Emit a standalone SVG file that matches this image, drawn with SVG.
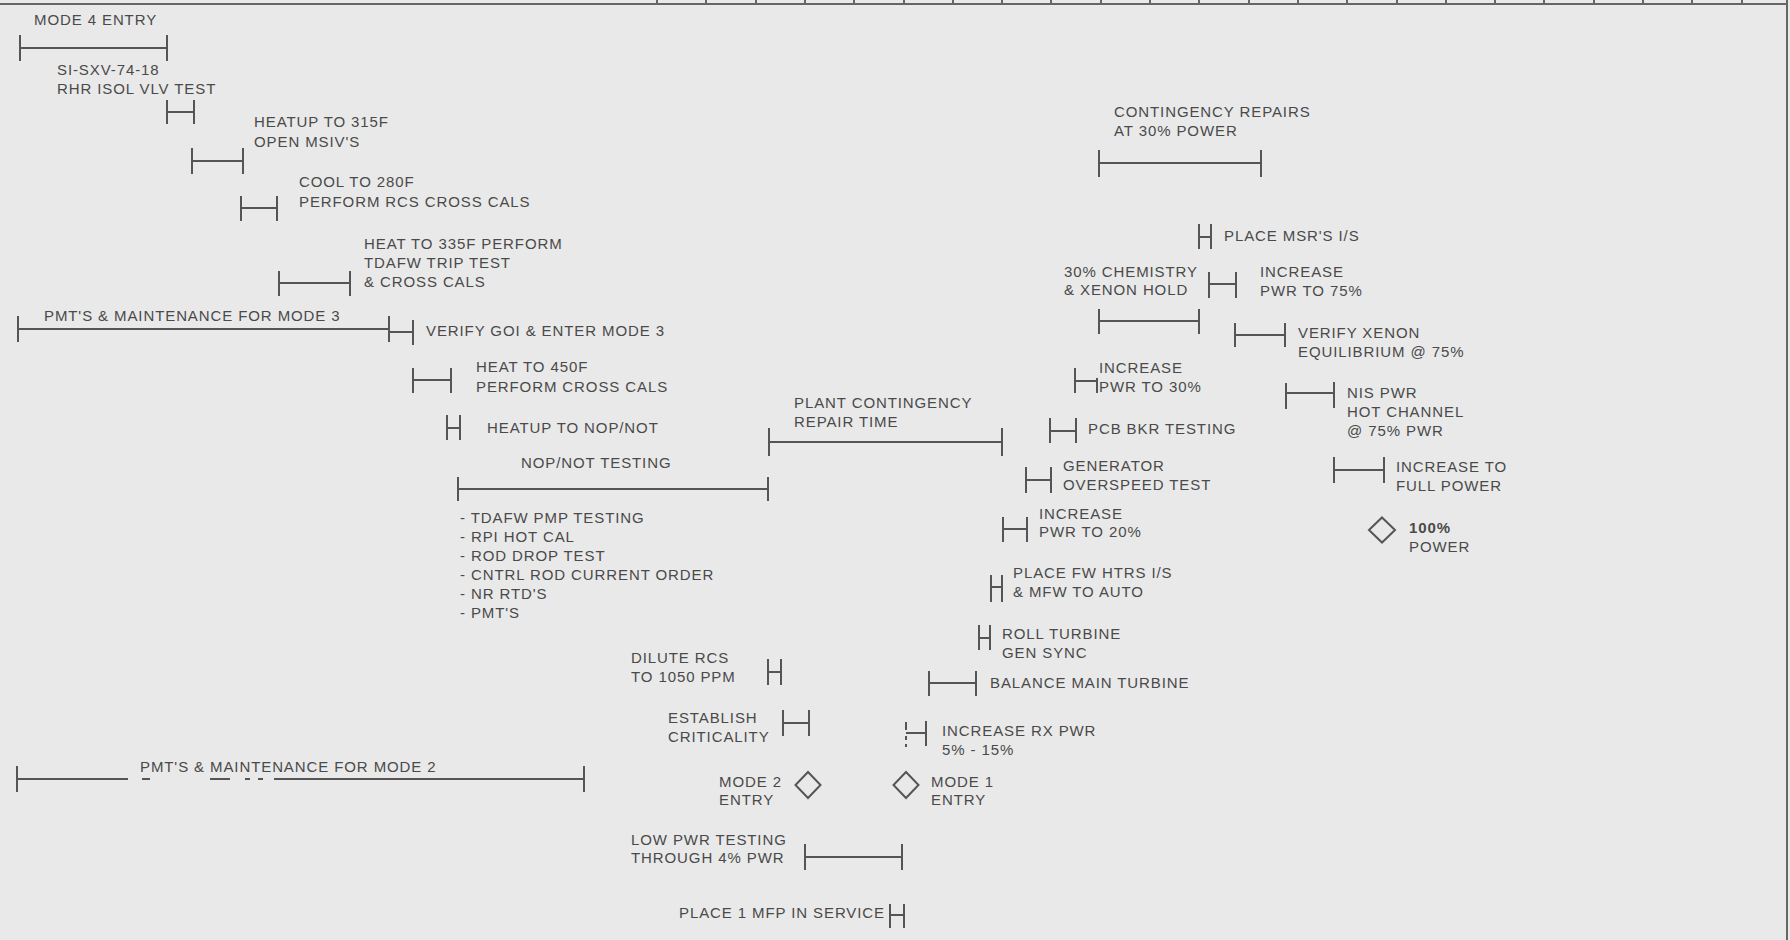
<svg xmlns="http://www.w3.org/2000/svg" width="1790" height="940" viewBox="0 0 1790 940">
<style>
.t{font-family:"Liberation Sans",Arial,sans-serif;font-size:15px;letter-spacing:0.9px;fill:#4a4a4a}
.b{fill:none;stroke:#555;stroke-width:2}
.d{fill:none;stroke:#555;stroke-width:2}
.r{fill:none;stroke:#666;stroke-width:2}
</style>
<rect width="1790" height="940" fill="#e9e9e9"/>
<g id="ruler">
<path class="r" d="M0 4H1787 M1787 0V940"/>
<path class="r" stroke-width="1.5" d="M657 0V4 M706 0V4 M756 0V4 M805 0V4 M854 0V4 M904 0V4 M953 0V4 M1002 0V4 M1051 0V4 M1101 0V4 M1150 0V4 M1199 0V4 M1249 0V4 M1298 0V4 M1347 0V4 M1397 0V4 M1446 0V4 M1495 0V4 M1544 0V4 M1594 0V4 M1643 0V4 M1692 0V4 M1742 0V4"/>
</g>
<g id="connectors"></g>
<g id="mode4-entry"><path class="b" d="M20 35V61M20 48H167M167 35V61"/><text class="t" x="34" y="25">MODE 4 ENTRY</text></g>
<g id="rhr-isol"><path class="b" d="M167 100V124M167 112H194M194 100V124"/><text class="t" x="57" y="75">SI-SXV-74-18</text><text class="t" x="57" y="94">RHR ISOL VLV TEST</text></g>
<g id="heatup-315"><path class="b" d="M192 148V174M192 161H243M243 148V174"/><text class="t" x="254" y="127">HEATUP TO 315F</text><text class="t" x="254" y="147">OPEN MSIV'S</text></g>
<g id="cool-280"><path class="b" d="M241 196V221M241 208H277M277 196V221"/><text class="t" x="299" y="187">COOL TO 280F</text><text class="t" x="299" y="207">PERFORM RCS CROSS CALS</text></g>
<g id="heat-335"><path class="b" d="M279 271V296M279 283H350M350 271V296"/><text class="t" x="364" y="249">HEAT TO 335F PERFORM</text><text class="t" x="364" y="268">TDAFW TRIP TEST</text><text class="t" x="364" y="287">&amp; CROSS CALS</text></g>
<g id="pmts-mode3"><path class="b" d="M18 316V342M18 329H389M389 316V342"/><text class="t" x="44" y="321">PMT'S &amp; MAINTENANCE FOR MODE 3</text></g>
<g id="verify-goi"><path class="b" d="M389 332H413M413 320V345"/><text class="t" x="426" y="336">VERIFY GOI &amp; ENTER MODE 3</text></g>
<g id="heat-450"><path class="b" d="M413 368V393M413 380H451M451 368V393"/><text class="t" x="476" y="372">HEAT TO 450F</text><text class="t" x="476" y="392">PERFORM CROSS CALS</text></g>
<g id="heatup-nop"><path class="b" d="M447 415V440M447 428H460M460 415V440"/><text class="t" x="487" y="433">HEATUP TO NOP/NOT</text></g>
<g id="nop-testing"><path class="b" d="M458 477V501M458 489H768M768 477V501"/><text class="t" x="521" y="468">NOP/NOT TESTING</text>
<text class="t" x="460" y="523">- TDAFW PMP TESTING</text><text class="t" x="460" y="542">- RPI HOT CAL</text><text class="t" x="460" y="561">- ROD DROP TEST</text><text class="t" x="460" y="580">- CNTRL ROD CURRENT ORDER</text><text class="t" x="460" y="599">- NR RTD'S</text><text class="t" x="460" y="618">- PMT'S</text></g>
<g id="plant-contingency"><path class="b" d="M769 428V456M769 442H1002M1002 428V456"/><text class="t" x="794" y="408">PLANT CONTINGENCY</text><text class="t" x="794" y="427">REPAIR TIME</text></g>
<g id="dilute-rcs"><path class="b" d="M768 659V685M768 672H781M781 659V685"/><text class="t" x="631" y="663">DILUTE RCS</text><text class="t" x="631" y="682">TO 1050 PPM</text></g>
<g id="criticality"><path class="b" d="M783 710V736M783 723H809M809 710V736"/><text class="t" x="668" y="723">ESTABLISH</text><text class="t" x="668" y="742">CRITICALITY</text></g>
<g id="pmts-mode2"><path class="b" d="M17 766V792M17 779H128M142 779H150M210 779H230M245 779H250M258 779H263M274 779H584M584 766V792"/><text class="t" x="140" y="772">PMT'S &amp; MAINTENANCE FOR MODE 2</text></g>
<g id="mode2-entry"><polygon class="d" points="808,772 820.5,785 808,798 795.5,785"/><text class="t" x="719" y="787">MODE 2</text><text class="t" x="719" y="805">ENTRY</text></g>
<g id="mode1-entry"><polygon class="d" points="906,772 918.5,785 906,798 893.5,785"/><text class="t" x="931" y="787">MODE 1</text><text class="t" x="931" y="805">ENTRY</text></g>
<g id="low-pwr"><path class="b" d="M805 844V870M805 857H902M902 844V870"/><text class="t" x="631" y="845">LOW PWR TESTING</text><text class="t" x="631" y="863">THROUGH 4% PWR</text></g>
<g id="place-mfp"><path class="b" d="M890 904V928M890 915H904M904 904V928"/><text class="t" x="679" y="918">PLACE 1 MFP IN SERVICE</text></g>
<g id="increase-rx"><path class="b" d="M906 722V730M906 736V740M906 744V747M906 733H926M926 721V746"/><text class="t" x="942" y="736">INCREASE RX PWR</text><text class="t" x="942" y="755">5% - 15%</text></g>
<g id="balance-turbine"><path class="b" d="M929 671V696M929 683H976M976 671V696"/><text class="t" x="990" y="688">BALANCE MAIN TURBINE</text></g>
<g id="roll-turbine"><path class="b" d="M979 625V650M979 638H990M990 625V650"/><text class="t" x="1002" y="639">ROLL TURBINE</text><text class="t" x="1002" y="658">GEN SYNC</text></g>
<g id="place-fw"><path class="b" d="M991 575V602M991 587H1002M1002 575V602"/><text class="t" x="1013" y="578">PLACE FW HTRS I/S</text><text class="t" x="1013" y="597">&amp; MFW TO AUTO</text></g>
<g id="increase-20"><path class="b" d="M1003 517V542M1003 529H1027M1027 517V542"/><text class="t" x="1039" y="519">INCREASE</text><text class="t" x="1039" y="537">PWR TO 20%</text></g>
<g id="generator"><path class="b" d="M1026 467V493M1026 480H1051M1051 467V493"/><text class="t" x="1063" y="471">GENERATOR</text><text class="t" x="1063" y="490">OVERSPEED TEST</text></g>
<g id="pcb-bkr"><path class="b" d="M1050 418V443M1050 431H1076M1076 418V443"/><text class="t" x="1088" y="434">PCB BKR TESTING</text></g>
<g id="increase-30"><path class="b" d="M1075 368V393M1075 381H1097M1097 378V393"/><text class="t" x="1099" y="373">INCREASE</text><text class="t" x="1099" y="392">PWR TO 30%</text></g>
<g id="xenon-hold"><path class="b" d="M1099 309V334M1099 321H1199M1199 309V334"/><text class="t" x="1064" y="277">30% CHEMISTRY</text><text class="t" x="1064" y="295">&amp; XENON HOLD</text></g>
<g id="contingency-30"><path class="b" d="M1099 150V177M1099 163H1261M1261 150V177"/><text class="t" x="1114" y="117">CONTINGENCY REPAIRS</text><text class="t" x="1114" y="136">AT 30% POWER</text></g>
<g id="place-msr"><path class="b" d="M1199 224V249M1199 237H1211M1211 224V249"/><text class="t" x="1224" y="241">PLACE MSR'S I/S</text></g>
<g id="increase-75"><path class="b" d="M1209 272V298M1209 284H1236M1236 272V298"/><text class="t" x="1260" y="277">INCREASE</text><text class="t" x="1260" y="296">PWR TO 75%</text></g>
<g id="verify-xenon"><path class="b" d="M1235 323V347M1235 335H1285M1285 323V347"/><text class="t" x="1298" y="338">VERIFY XENON</text><text class="t" x="1298" y="357">EQUILIBRIUM @ 75%</text></g>
<g id="nis-pwr"><path class="b" d="M1286 383V409M1286 393H1334M1334 382V408"/><text class="t" x="1347" y="398">NIS PWR</text><text class="t" x="1347" y="417">HOT CHANNEL</text><text class="t" x="1347" y="436">@ 75% PWR</text></g>
<g id="increase-full"><path class="b" d="M1334 457V483M1334 470H1384M1384 457V483"/><text class="t" x="1396" y="472">INCREASE TO</text><text class="t" x="1396" y="491">FULL POWER</text></g>
<g id="full-power"><polygon class="d" points="1382,517.5 1395,530 1382,542.5 1369,530"/><text class="t" x="1409" y="533" font-weight="bold">100%</text><text class="t" x="1409" y="552">POWER</text></g>
</svg>
